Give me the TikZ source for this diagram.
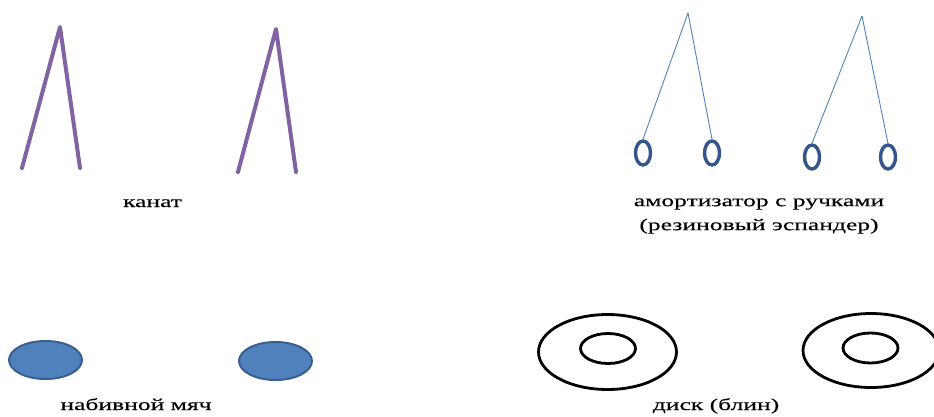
\documentclass[tikz,border=0pt]{standalone}
\usepackage{fontspec}
\setmainfont{Liberation Serif}
\newfontfamily\capfont[FakeStretch=1.55, FakeBold=0.3]{Liberation Serif}
\usetikzlibrary{shapes.geometric}
\definecolor{ropeviolet}{HTML}{8064A2}
\definecolor{bandblue}{HTML}{4F81BD}
\definecolor{gripblue}{RGB}{52,86,140}
\definecolor{ballfill}{HTML}{4F81BD}
\definecolor{ballrim}{HTML}{3A5F8E}
\tikzset{rope/.style={ropeviolet, line width=4pt, line cap=round, line join=round},
  band/.style={bandblue, line width=0.9pt},
  grip/.style={draw=gripblue, ellipse, line width=3.4pt, inner sep=0pt, minimum width=15pt, minimum height=24pt},
  ball/.style={draw=ballrim, fill=ballfill, ellipse, line width=2pt, inner sep=0pt, minimum width=73pt, minimum height=38pt},
  disc/.style={draw, ellipse, line width=2.8pt, inner sep=0pt},
  caption/.style={font=\capfont\fontsize{16.5}{24}\selectfont, align=center, inner sep=0pt}}

\begin{document}
\begin{tikzpicture}[x=1pt, y=-1pt]
  \path[use as bounding box, clip] (0,0) rectangle (934,416);
  % rope
  \coordinate (r1) at (60,27);  \coordinate (r1l) at (22,168);  \coordinate (r1r) at (80,168);
  \coordinate (r2) at (276,29); \coordinate (r2l) at (238,172); \coordinate (r2r) at (296,172);
  \foreach \t in {r1, r2}{\draw[rope] (\t l) -- (\t) -- (\t r);}
  \node[caption, anchor=base] (rlab) at (152.5,207) {канат};
  % expander with grips
  \coordinate (e1) at (688,13);  \coordinate (e2) at (862,16);
  \node[grip] (g1) at (643,153) {};
  \node[grip] (g2) at (712,153) {};
  \node[grip] (g3) at (812,157) {};
  \node[grip] (g4) at (888,157) {};
  \foreach \a/\b in {e1/g1, e1/g2, e2/g3, e2/g4}{\draw[band] (\a) -- (\b.north);}
  \node[caption] (elab) at (759,216) {амортизатор с ручками\\(резиновый эспандер)};
  % medicine balls
  \node[ball] (b1) at (45.5,360) {};
  \node[ball] (b2) at (275.5,361) {};
  \node[caption, anchor=base] (blab) at (136,410) {набивной мяч};
  % plates
  \node[disc, minimum width=138pt, minimum height=75pt] (d1) at (607.5,352) {};
  \node[disc, minimum width=55pt, minimum height=30pt] (d1i) at (608,348.5) {};
  \node[disc, minimum width=136pt, minimum height=74pt] (d2) at (871,350.5) {};
  \node[disc, minimum width=55pt, minimum height=30pt] (d2i) at (870.5,348) {};
  \node[caption, anchor=base] (dlab) at (716,410) {диск (блин)};
\end{tikzpicture}
\end{document}
